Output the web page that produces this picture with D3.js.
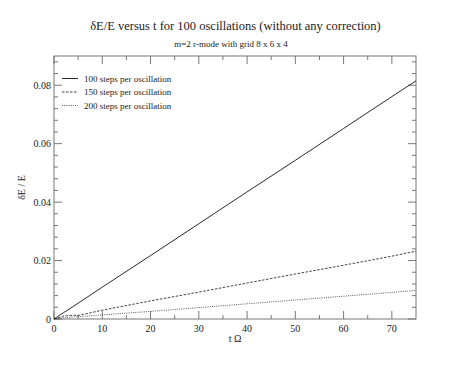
<!DOCTYPE html>
<html><head><meta charset="utf-8">
<script src="https://cdn.jsdelivr.net/npm/d3@7"></script>
<style>body{margin:0;background:#fff}svg{display:block}</style>
</head><body>
<svg id="c" width="469" height="376" font-family="'Liberation Serif', 'DejaVu Serif', serif"></svg>
<script>
const tValues = [0, 2, 4, 5, 10, 20, 30, 40, 50, 60, 70, 75];
const s100 = [0, 0.0022, 0.0043, 0.0054, 0.0109, 0.0217, 0.0326, 0.0435, 0.0543, 0.0652, 0.0761, 0.0815];
const s150 = [0, 0.0010, 0.0013, 0.0012, 0.0030, 0.0062, 0.0092, 0.0123, 0.0154, 0.0184, 0.0215, 0.0232];
const s200 = [0, 0.0004, 0.0007, 0.0008, 0.0014, 0.0026, 0.0039, 0.0052, 0.0065, 0.0078, 0.0091, 0.0098];
const seriesNames = ["100 steps per oscillation", "150 steps per oscillation", "200 steps per oscillation"];
const xTicks = [0, 10, 20, 30, 40, 50, 60, 70];
const yTicks = [0, 0.02, 0.04, 0.06, 0.08];
const title = "δE/E versus t for 100 oscillations (without any correction)";
const subtitle = "m=2 r-mode with grid 8 x 6 x 4";
const xLabel = "t Ω";
const yLabel = "δE / E";

const svg = d3.select("#c");
const L = 54, R = 416, T = 56, B = 319;
const x = d3.scaleLinear().domain([0, 75]).range([L, R]);
const y = d3.scaleLinear().domain([0, 0.09]).range([B, T]);
const axisColor = "#777";
const ff = "'Liberation Serif', 'DejaVu Serif', serif";
const txt = (g) => g.append("text").attr("font-family", ff).attr("fill", "#222");

txt(svg).attr("x", 235.5).attr("y", 30).attr("text-anchor", "middle").attr("font-size", 12.5).text(title);
txt(svg).attr("x", 231).attr("y", 47).attr("text-anchor", "middle").attr("font-size", 9).text(subtitle);

svg.append("rect").attr("x", L).attr("y", T).attr("width", R - L).attr("height", B - T)
  .attr("fill", "none").attr("stroke", axisColor).attr("stroke-width", 1);

const xMinor = d3.range(5, 75, 10);
const yMinor = d3.range(0, 0.0901, 0.004).filter(v => Math.abs(v / 0.02 - Math.round(v / 0.02)) > 1e-6);
const tk = svg.append("g").attr("stroke", axisColor).attr("stroke-width", 1);
xTicks.forEach(v => {
  tk.append("line").attr("x1", x(v)).attr("x2", x(v)).attr("y1", B).attr("y2", B - 8);
  tk.append("line").attr("x1", x(v)).attr("x2", x(v)).attr("y1", T).attr("y2", T + 8);
});
xMinor.forEach(v => {
  tk.append("line").attr("x1", x(v)).attr("x2", x(v)).attr("y1", B).attr("y2", B - 4);
  tk.append("line").attr("x1", x(v)).attr("x2", x(v)).attr("y1", T).attr("y2", T + 4);
});
yTicks.forEach(v => {
  tk.append("line").attr("x1", L).attr("x2", L + 8).attr("y1", y(v)).attr("y2", y(v));
  tk.append("line").attr("x1", R).attr("x2", R - 8).attr("y1", y(v)).attr("y2", y(v));
});
yMinor.forEach(v => {
  tk.append("line").attr("x1", L).attr("x2", L + 4).attr("y1", y(v)).attr("y2", y(v));
  tk.append("line").attr("x1", R).attr("x2", R - 4).attr("y1", y(v)).attr("y2", y(v));
});

xTicks.forEach(v => txt(svg).attr("x", x(v)).attr("y", B + 13).attr("text-anchor", "middle").attr("font-size", 10).text(v));
yTicks.forEach(v => txt(svg).attr("x", L - 3).attr("y", y(v) + 3.5).attr("text-anchor", "end").attr("font-size", 10).text(v === 0 ? "0" : d3.format(".2f")(v)));

txt(svg).attr("x", 235).attr("y", 342).attr("text-anchor", "middle").attr("font-size", 10).text(xLabel);
txt(svg).attr("transform", `translate(25,${(T + B) / 2}) rotate(-90)`).attr("text-anchor", "middle").attr("font-size", 10).text(yLabel);

const data = [s100, s150, s200];
const dashes = [null, "2.5,1.5", "1,1.2"];
const widths = [0.9, 0.8, 0.7];
const line = d3.line().x((d, i) => x(tValues[i])).y(d => y(d));
data.forEach((s, k) => {
  svg.append("path").datum(s).attr("d", line).attr("fill", "none").attr("stroke", "#111")
    .attr("stroke-width", widths[k]).attr("stroke-dasharray", dashes[k]);
});

seriesNames.forEach((n, k) => {
  const ly = 78.5 + k * 13.5;
  svg.append("line").attr("x1", 62).attr("x2", 78).attr("y1", ly).attr("y2", ly)
    .attr("stroke", "#111").attr("stroke-width", widths[k]).attr("stroke-dasharray", dashes[k]);
  txt(svg).attr("x", 84).attr("y", ly + 3).attr("font-size", 9).text(n);
});
</script>
</body></html>
